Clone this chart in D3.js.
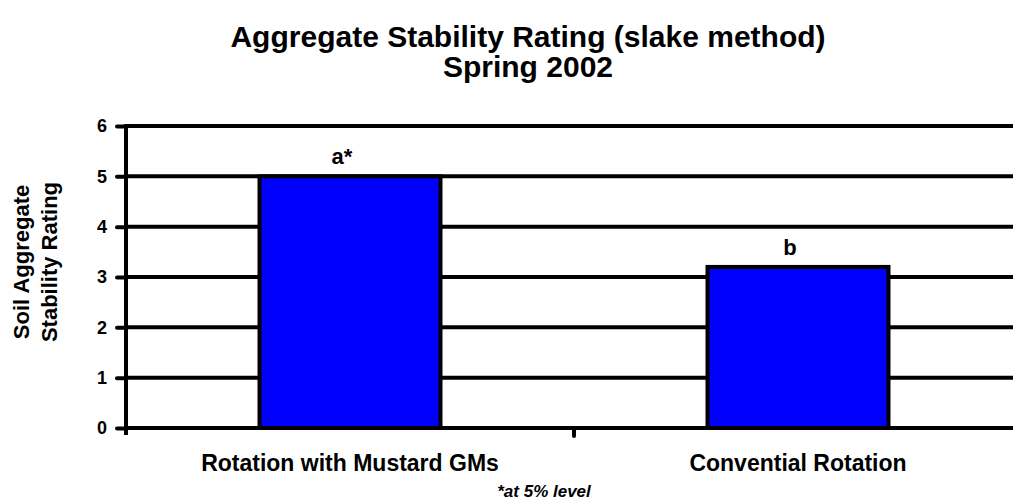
<!DOCTYPE html>
<html><head><meta charset="utf-8">
<script src="https://cdn.jsdelivr.net/npm/d3@7"></script>
<style>body{margin:0;background:#fff}text{font-family:"Liberation Sans",Arial,sans-serif;font-weight:bold}</style>
</head><body>
<svg id="c" width="1013" height="502"></svg>
<script>
const categories = ["Rotation with Mustard GMs", "Convential Rotation"];
const values = [5.0, 3.2];
const barLabels = ["a*", "b"];
const yTicks = [0, 1, 2, 3, 4, 5, 6];
const titleLines = ["Aggregate Stability Rating (slake method)", "Spring 2002"];
const yLabelLines = ["Soil Aggregate", "Stability Rating"];
const footnote = "*at 5% level";

const svg = d3.select("#c");
const L = 126, R = 1022, T = 126, B = 428;
const x = d3.scaleBand().domain(categories).range([L, R]).paddingInner(0).paddingOuter(0);
const y = d3.scaleLinear().domain([0, 6]).range([B, T]);
const bw = x.bandwidth() * 0.404;

// gridlines
svg.append("g").selectAll("line").data(yTicks).join("line")
  .attr("x1", L).attr("x2", R).attr("y1", d => y(d)).attr("y2", d => y(d))
  .attr("stroke", "#000").attr("stroke-width", 4);

// bars
svg.append("g").selectAll("rect").data(values).join("rect")
  .attr("x", (d, i) => x(categories[i]) + x.bandwidth() / 2 - bw / 2)
  .attr("width", bw)
  .attr("y", d => y(d))
  .attr("height", d => y(0) - y(d))
  .attr("fill", "#0000ff").attr("stroke", "#000").attr("stroke-width", 4);

// bar labels
svg.append("g").selectAll("text").data(values).join("text")
  .attr("x", (d, i) => x(categories[i]) + x.bandwidth() / 2 - 8)
  .attr("y", d => y(d) - 12)
  .attr("text-anchor", "middle").attr("font-size", 22)
  .text((d, i) => barLabels[i]);

// y axis
const ya = svg.append("g").attr("transform", `translate(${L},0)`)
  .call(d3.axisLeft(y).tickValues(yTicks).tickSize(9).tickPadding(10).tickFormat(d3.format("d")));
ya.select(".domain").attr("stroke-width", 4).attr("d", `M0,${T - 2}V${B + 7}`);
ya.selectAll(".tick line").attr("stroke-width", 4).attr("stroke-linecap", "round");
ya.selectAll(".tick text").attr("font-size", 18).attr("font-weight", "bold")
  .attr("font-family", "Liberation Sans, Arial, sans-serif").attr("fill", "#000");

// x axis
const xa = svg.append("g").attr("transform", `translate(0,${B})`)
  .call(d3.axisBottom(x).tickSize(0).tickPadding(27));
xa.select(".domain").attr("stroke-width", 4).attr("d", `M${L},0H${R}`);
xa.selectAll(".tick text").attr("font-size", 23).attr("font-weight", "bold")
  .attr("font-family", "Liberation Sans, Arial, sans-serif").attr("fill", "#000");
// category separator tick
svg.append("g").selectAll("line").data([(L + R) / 2]).join("line")
  .attr("x1", d => d).attr("x2", d => d).attr("y1", B).attr("y2", B + 8)
  .attr("stroke", "#000").attr("stroke-width", 4).attr("stroke-linecap", "round");

// title
svg.append("g").selectAll("text").data(titleLines).join("text")
  .attr("x", 528).attr("y", (d, i) => 47 + i * 30)
  .attr("text-anchor", "middle").attr("font-size", 30).text(d => d);

// y label
svg.append("g").selectAll("text").data(yLabelLines).join("text")
  .attr("transform", (d, i) => `translate(${29 + i * 28},262) rotate(-90)`)
  .attr("text-anchor", "middle").attr("font-size", 22).text(d => d);

// footnote
svg.append("text").attr("x", 544).attr("y", 497).attr("text-anchor", "middle")
  .attr("font-size", 17).attr("font-style", "italic").text(footnote);
</script>
</body></html>
